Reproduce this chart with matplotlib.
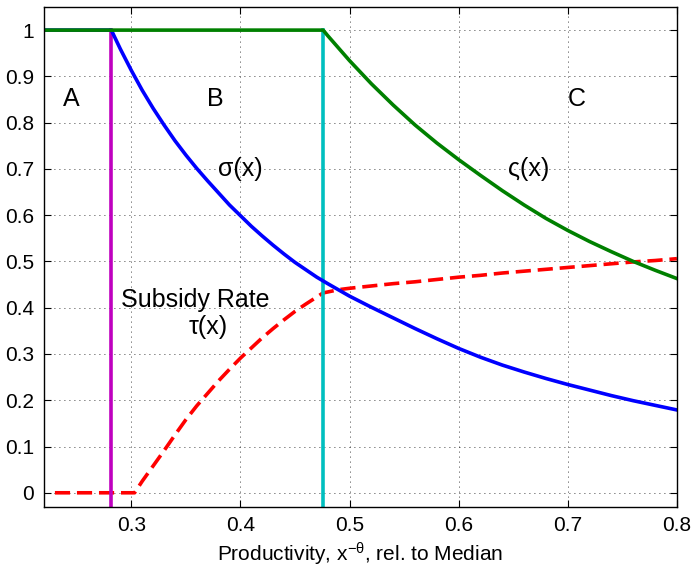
import matplotlib
matplotlib.use("Agg")
import matplotlib.pyplot as plt
from matplotlib.ticker import FormatStrFormatter

plt.rcParams['font.family'] = ['Liberation Sans', 'DejaVu Sans']
plt.rcParams['mathtext.fontset'] = 'custom'
plt.rcParams['mathtext.rm'] = 'Liberation Sans'
plt.rcParams['mathtext.it'] = 'Liberation Sans:italic'

# sigma(x)
sigma_x = [0.22, 0.2817, 0.29, 0.30, 0.31, 0.32, 0.33, 0.34, 0.35, 0.36, 0.37, 0.38,
           0.39, 0.40, 0.41, 0.42, 0.43, 0.44, 0.45, 0.46, 0.47, 0.48, 0.50, 0.52,
           0.54, 0.56, 0.58, 0.60, 0.62, 0.64, 0.66, 0.68, 0.70, 0.72, 0.74, 0.76,
           0.78, 0.80]
sigma_y = [1.0, 1.0, 0.959, 0.913, 0.870, 0.831, 0.795, 0.761, 0.730, 0.701, 0.674, 0.648,
           0.622, 0.599, 0.576, 0.555, 0.535, 0.516, 0.498, 0.482, 0.466, 0.452, 0.425, 0.401,
           0.378, 0.355, 0.333, 0.312, 0.293, 0.276, 0.261, 0.247, 0.234, 0.222, 0.210, 0.199,
           0.189, 0.179]

# varsigma(x)
vsig_x = [0.22, 0.4758, 0.48, 0.49, 0.50, 0.52, 0.54, 0.56, 0.58, 0.60, 0.62, 0.64,
          0.66, 0.68, 0.70, 0.72, 0.74, 0.76, 0.78, 0.80]
vsig_y = [1.0, 1.0, 0.988, 0.961, 0.934, 0.884, 0.838, 0.795, 0.756, 0.720, 0.686, 0.653,
          0.622, 0.593, 0.567, 0.543, 0.521, 0.500, 0.481, 0.463]

# subsidy rate tau(x)
tau_x = [0.23, 0.303, 0.31, 0.32, 0.33, 0.34, 0.35, 0.36, 0.37, 0.38, 0.39, 0.40,
         0.41, 0.42, 0.43, 0.44, 0.45, 0.46, 0.4758, 0.48, 0.49, 0.50, 0.52, 0.54,
         0.56, 0.58, 0.60, 0.62, 0.64, 0.66, 0.68, 0.70, 0.72, 0.74, 0.76, 0.78, 0.80]
tau_y = [0.0, 0.0, 0.025, 0.058, 0.091, 0.125, 0.158, 0.188, 0.215, 0.242, 0.267, 0.291,
         0.313, 0.335, 0.355, 0.374, 0.392, 0.408, 0.432, 0.434, 0.439, 0.442, 0.447, 0.452,
         0.456, 0.461, 0.466, 0.470, 0.475, 0.479, 0.483, 0.487, 0.491, 0.495, 0.499, 0.502,
         0.506]

x_low = 0.2817   # A/B threshold
x_high = 0.4758  # B/C threshold

fig = plt.figure(figsize=(6.94, 5.68), dpi=100)
ax = fig.add_axes([0.0634, 0.108, 0.912, 0.8797])

lw = 2.6
ax.plot(tau_x, tau_y, color='red', lw=lw, dashes=(4.2, 1.9))
ax.plot([x_low, x_low], [-0.05, 1.0], color=(0.75, 0, 0.75), lw=lw)
ax.plot([x_high, x_high], [-0.05, 1.0], color=(0, 0.75, 0.75), lw=lw)
ax.plot(sigma_x, sigma_y, color='blue', lw=lw)
ax.plot(vsig_x, vsig_y, color=(0, 0.5, 0), lw=lw)

ax.set_xlim(0.22, 0.8)
ax.set_ylim(-0.03, 1.05)
ax.set_xticks([0.3, 0.4, 0.5, 0.6, 0.7, 0.8])
ax.set_yticks([i / 10 for i in range(11)])
ax.xaxis.set_major_formatter(FormatStrFormatter('%g'))
ax.yaxis.set_major_formatter(FormatStrFormatter('%g'))
ax.tick_params(direction='in', length=5, labelsize=15, top=True, right=True, pad=7)
ax.grid(True, color='k', lw=0.6, linestyle=(0, (1, 5)))
for s in ax.spines.values():
    s.set_linewidth(1.0)

ax.set_xlabel(r'Productivity, $\mathrm{x}^{-\mathrm{θ}}$, rel. to Median', fontsize=15, labelpad=4)

ax.text(0.245, 0.851, 'A', fontsize=18, ha='center', va='center')
ax.text(0.377, 0.851, 'B', fontsize=18, ha='center', va='center')
ax.text(0.708, 0.851, 'C', fontsize=18, ha='center', va='center')
ax.text(0.400, 0.699, 'σ(x)', fontsize=18, ha='center', va='center')
ax.text(0.664, 0.699, 'ς(x)', fontsize=18, ha='center', va='center')
ax.text(0.359, 0.417, 'Subsidy Rate', fontsize=18, ha='center', va='center')
ax.text(0.370, 0.358, 'τ(x)', fontsize=18, ha='center', va='center')

fig.savefig('out.png', dpi=100)
